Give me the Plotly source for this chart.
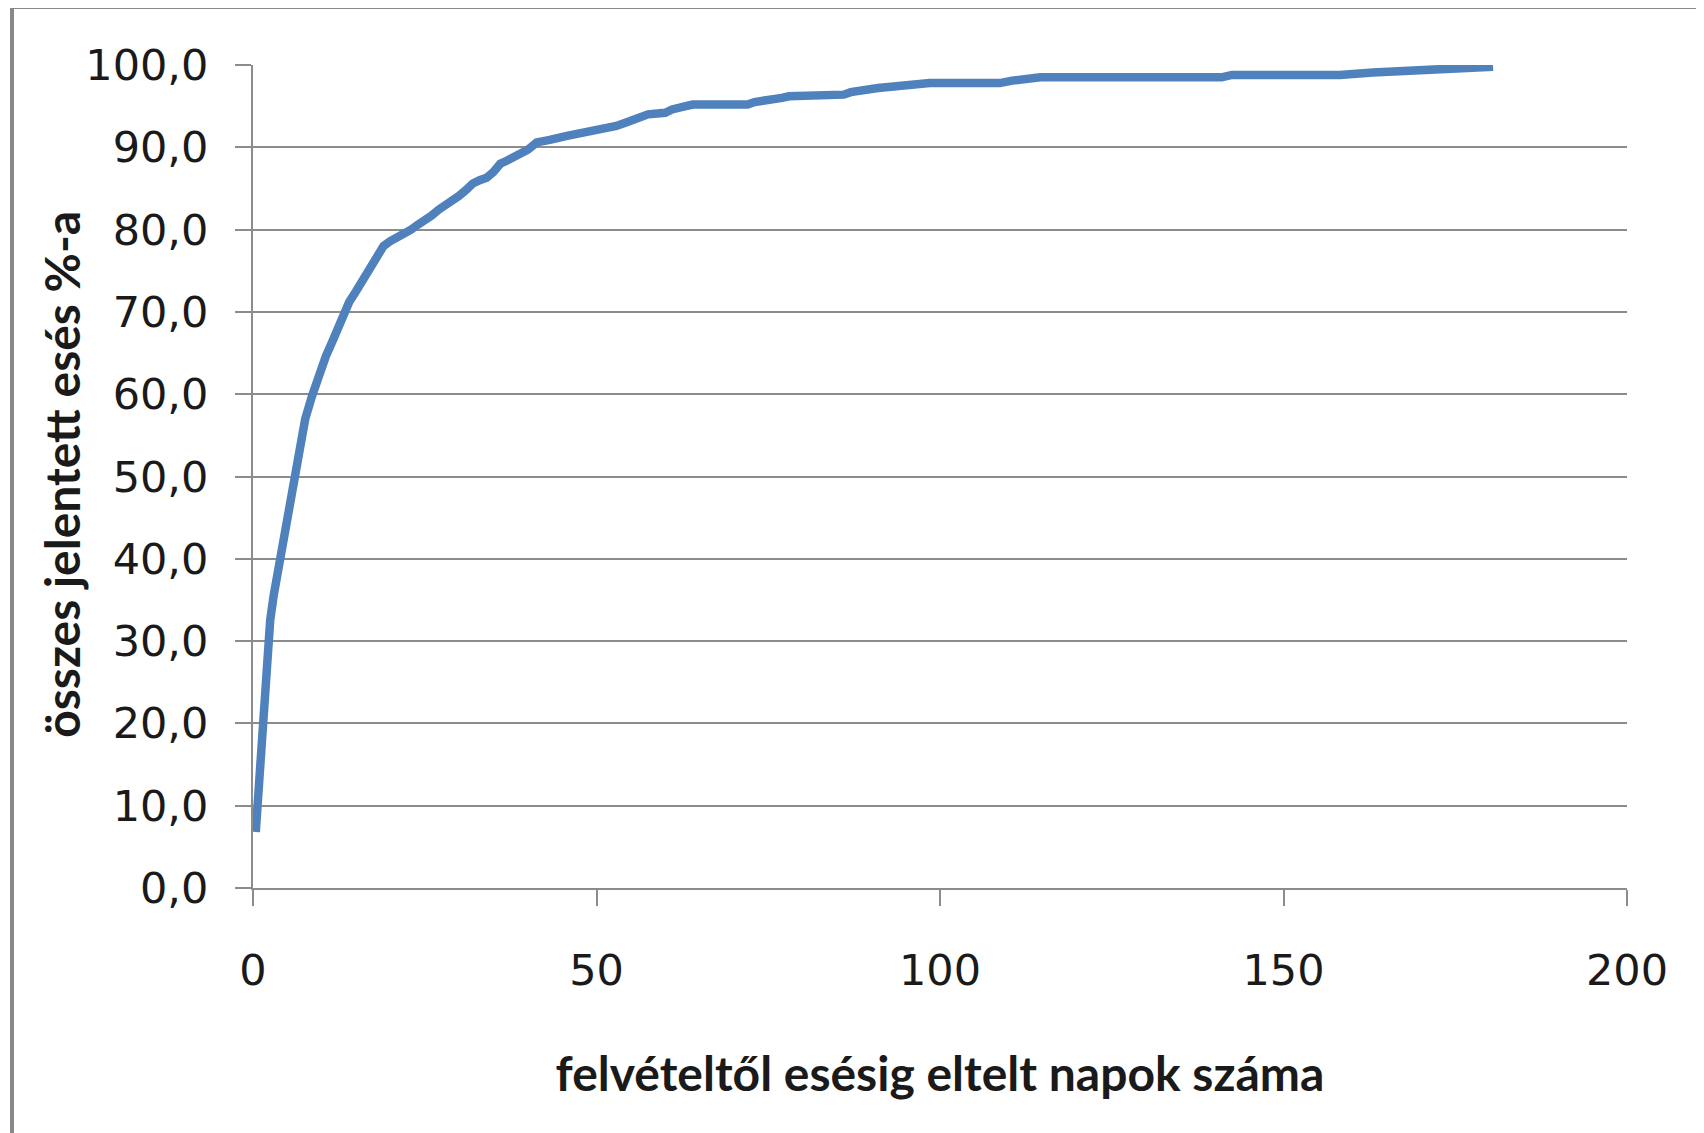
"""Cumulative share of reported falls by days since admission."""

import plotly.graph_objects as go

LINE_COLOR = "#4f81bd"
GRID_COLOR = "#8c8c8c"

days = [0.4, 0.8, 1.2, 1.6, 2.0, 2.5, 3.0, 3.8, 4.6, 5.4, 6.0, 6.8, 7.6, 8.6, 9.6,
        10.6, 11.6, 12.4, 13.2, 14.0, 15.0, 16.0, 17.0, 18.0, 19.0, 20.0, 21.0, 22.0,
        23.0, 24.0, 25.0, 26.0, 27.0, 28.0, 29.0, 30.0, 31.0, 32.0, 33.0, 34.0, 35.0,
        36.0, 37.0, 38.0, 39.0, 40.0, 41.3, 42.0, 43.2, 45.7, 48.1, 50.5, 52.9, 54.9,
        56.0, 57.5, 60.0, 61.0, 63.0, 64.0, 72.0, 73.0, 77.0, 78.0, 86.0, 87.0, 91.0,
        96.0, 98.5, 108.7, 110.5, 114.6, 141.0, 142.5, 158.2, 163.0, 168.0, 174.0, 180.5]
cumulative_pct = [6.8, 12.0, 18.0, 24.0, 28.5, 32.5, 35.5, 39.5, 43.5, 47.5, 50.5, 54.0,
                  57.0, 59.8, 62.5, 64.6, 66.5, 68.0, 70.0, 71.2, 72.5, 73.8, 75.2, 76.6,
                  78.0, 78.6, 79.0, 79.6, 80.0, 80.6, 81.1, 81.7, 82.4, 82.9, 83.6, 84.1,
                  84.8, 85.6, 86.0, 86.3, 87.0, 88.0, 88.4, 88.8, 89.2, 89.7, 90.6, 90.8,
                  90.9, 91.4, 91.8, 92.2, 92.6, 93.2, 93.5, 94.0, 94.2, 94.6, 95.0, 95.2,
                  95.2, 95.5, 96.0, 96.2, 96.4, 96.7, 97.2, 97.5, 97.8, 97.8, 98.1, 98.5,
                  98.5, 98.8, 98.8, 99.1, 99.3, 99.5, 99.8]

y_ticks = [0, 10, 20, 30, 40, 50, 60, 70, 80, 90, 100]
y_tick_labels = [f"{v},0" for v in y_ticks]
x_ticks = [0, 50, 100, 150, 200]

x_title = "felvételtől esésig eltelt napok száma"
y_title = "összes jelentett esés %-a"

fig = go.Figure()
fig.add_scatter(x=days, y=cumulative_pct, mode="lines",
                line={"color": LINE_COLOR, "width": 8.5}, showlegend=False, hoverinfo="x+y")

tick_font = {"family": "DejaVu Sans", "size": 43, "color": "#1a1a1a"}
title_font = {"family": "Lato", "size": 48, "color": "#1a1a1a", "weight": "bold"}

fig.update_xaxes(
    range=[0, 200], tickvals=x_ticks, showgrid=False, zeroline=False,
    showline=True, linecolor=GRID_COLOR, linewidth=2,
    ticks="outside", ticklen=16, tickwidth=2, tickcolor=GRID_COLOR,
    tickfont=tick_font, ticklabelstandoff=27,
    title={"text": x_title, "font": title_font, "standoff": 64},
)
fig.update_yaxes(
    range=[0, 100], tickvals=y_ticks, ticktext=y_tick_labels,
    showgrid=True, gridcolor=GRID_COLOR, gridwidth=2, zeroline=False,
    showline=True, linecolor=GRID_COLOR, linewidth=2,
    ticks="outside", ticklen=16, tickwidth=2, tickcolor=GRID_COLOR,
    tickfont=tick_font, ticklabelstandoff=18,
)

# y title sits close to the tick labels, so place it as a rotated annotation
fig.add_annotation(text=y_title, textangle=-90, font=title_font, showarrow=False,
                   xref="paper", yref="paper", x=-0.139, y=0.502,
                   xanchor="center", yanchor="middle")

# outer chart frame (only top and left edges are visible in the crop)
frame = {"color": "#888888", "width": 4}
fig.add_shape(type="line", xref="paper", yref="paper", x0=-0.1754, x1=1.2, y0=1.0705, y1=1.0705, line=frame)
fig.add_shape(type="line", xref="paper", yref="paper", x0=-0.1754, x1=-0.1754, y0=1.0705, y1=-0.4, line=frame)

# the page body adds an 8px offset, so margins are shifted to keep the plot area in place
fig.update_layout(
    width=1704, height=1133, autosize=False,
    paper_bgcolor="white", plot_bgcolor="white",
    margin={"l": 245, "r": 85, "t": 57, "b": 253},
)
fig.write_html("out.html")
